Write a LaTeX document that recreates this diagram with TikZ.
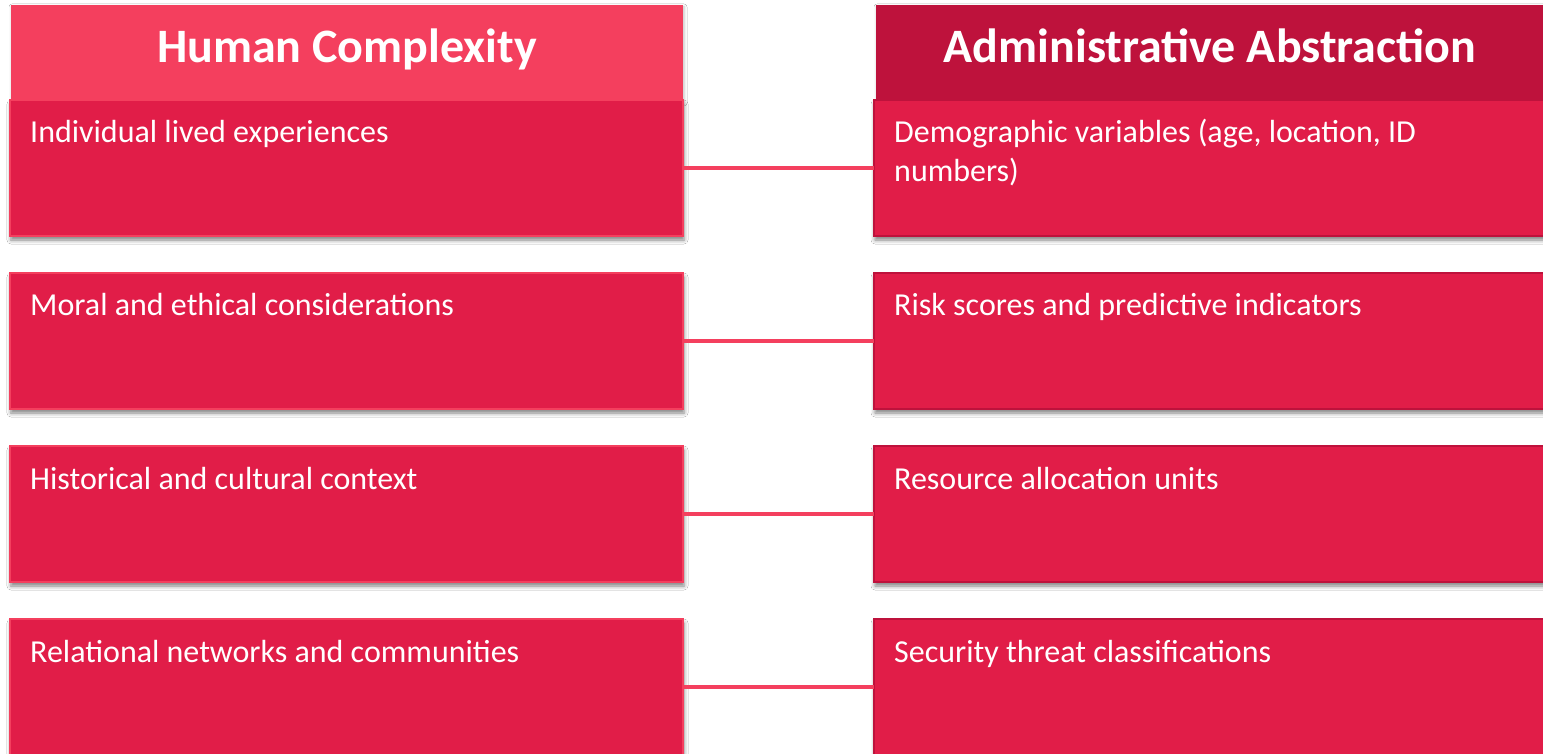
\documentclass[tikz,border=0pt]{standalone}
\usepackage{fontspec}
\setmainfont{Carlito}
\usetikzlibrary{shadows.blur}
\definecolor{hdrL}{HTML}{F43F5E}
\definecolor{hdrR}{HTML}{BE123C}
\definecolor{boxfill}{HTML}{E11D48}
\definecolor{linkc}{HTML}{F43F5E}
\tikzset{
  hdr/.style={rectangle, inner sep=0pt, outer sep=0pt, draw=none},
  itembox/.style={rectangle, inner sep=0pt, outer sep=0pt, fill=boxfill, line width=1.2pt,
    minimum width=673pt, minimum height=136pt, anchor=north west,
    blur shadow={shadow xshift=1pt, shadow yshift=-4pt, shadow blur radius=4pt, shadow opacity=50}},
  lbox/.style={itembox, draw=hdrL},
  rbox/.style={itembox, draw=hdrR},
  hdrtext/.style={text=white, font=\fontsize{48}{54}\selectfont\bfseries, inner sep=0pt, anchor=base},
  itemtext/.style={text=white, font=\fontsize{32}{39}\selectfont, inner sep=0pt, anchor=base west, align=left},
  link/.style={draw=linkc, line width=3.5pt}
}
\begin{document}
\begin{tikzpicture}[x=1pt,y=-1pt]
\useasboundingbox[fill=white] (0,0) rectangle (1543,754);
\clip (0,0) rectangle (1543,754);
% headers
\node[hdr, fill=hdrL, minimum width=672pt, minimum height=96pt, anchor=north west,
  blur shadow={shadow xshift=1pt, shadow yshift=-2pt, shadow blur radius=3pt, shadow opacity=25}] (hl) at (11,5) {};
\node[hdr, fill=hdrR, minimum width=669pt, minimum height=96pt, anchor=north west,
  blur shadow={shadow xshift=1pt, shadow yshift=-2pt, shadow blur radius=3pt, shadow opacity=25}] (hr) at (876,5) {};
\node[hdrtext] (hlt) at (347,63) {Human Complexity};
\node[hdrtext] (hrt) at (1210,63) {Administrative Abstraction};
% left boxes
\node[lbox] (l1) at (10,100) {};
\node[lbox] (l2) at (10,273) {};
\node[lbox] (l3) at (10,446) {};
\node[lbox] (l4) at (10,619) {};
% right boxes
\node[rbox] (r1) at (874,100) {};
\node[rbox] (r2) at (874,273) {};
\node[rbox] (r3) at (874,446) {};
\node[rbox] (r4) at (874,619) {};
% connectors
\draw[link] (l1.east) -- (r1.west);
\draw[link] (l2.east) -- (r2.west);
\draw[link] (l3.east) -- (r3.west);
\draw[link] (l4.east) -- (r4.west);
% texts
\node[itemtext] (t1) at (30,143) {Individual lived experiences};
\node[itemtext] (t2) at (30,316) {Moral and ethical considerations};
\node[itemtext] (t3) at (30,489) {Historical and cultural context};
\node[itemtext] (t4) at (30,662) {Relational networks and communities};
\node[itemtext] (u1) at (894,182) {Demographic variables (age, location, ID\\numbers)};
\node[itemtext] (u2) at (894,316) {Risk scores and predictive indicators};
\node[itemtext] (u3) at (894,489) {Resource allocation units};
\node[itemtext] (u4) at (894,662) {Security threat classifications};
\end{tikzpicture}
\end{document}
